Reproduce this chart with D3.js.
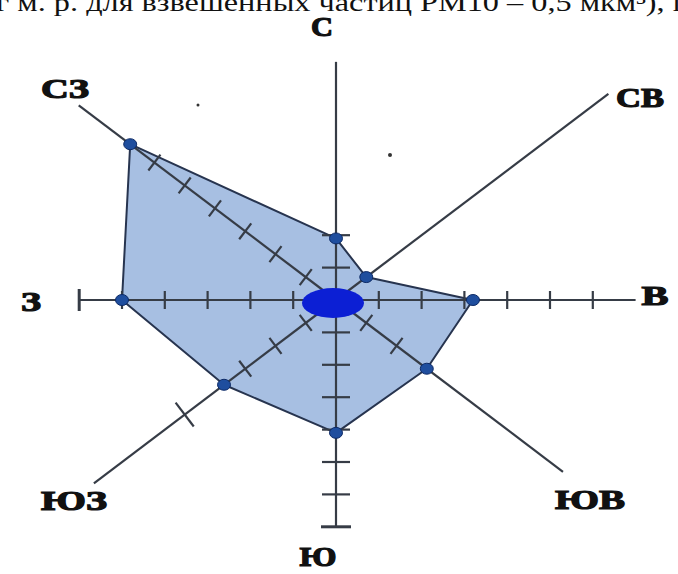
<!DOCTYPE html>
<html>
<head>
<meta charset="utf-8">
<script src="https://cdn.jsdelivr.net/npm/d3@7"></script>
<style>
  html, body { margin: 0; padding: 0; background: #fff; overflow: hidden; }
  svg { display: block; }
  .lbl { font-family: "Liberation Serif", "DejaVu Serif", serif; font-weight: bold; fill: #111; stroke: #111; stroke-width: 1.2px; }
</style>
</head>
<body>
<svg id="chart" width="678" height="574"></svg>
<script>
// ---- data ----
const directions = ["С", "СВ", "В", "ЮВ", "Ю", "ЮЗ", "З", "СЗ"];
const angles = [0, 45, 90, 135, 180, 225, 270, 315];
const values = [1.9, 1.0, 3.2, 3.0, 4.1, 3.7, 5.0, 6.8];
const axisLengths = [7.35, 9, 7, 7.5, 7, 8, 6, 8.5];
const tickValues = [[1, 2], [], [1, 2, 3, 4, 5, 6], [1, 2], [1, 2, 3, 4, 5, 6], [1, 2, 3, 5], [1, 2, 3, 4, 5], [1, 2, 3, 4, 5, 6]];
const endCaps = [null, null, null, null, 7, null, 6, null];
const titleText = "г м. р. для взвешенных  частиц PM10 – 0,5 мкм³), г";

// ---- layout ----
const cx = 336, cy = 300;
const svg = d3.select("#chart");

// anisotropic scales (horizontal / vertical unit)
const sx = d3.scaleLinear().domain([0, 1]).range([0, 42.8]);
const sy = d3.scaleLinear().domain([0, 1]).range([0, 32.4]);
const rad = a => a * Math.PI / 180;
function pt(r, ang) {
  const a = rad(ang);
  return [cx + sx(r * Math.sin(a)), cy - sy(r * Math.cos(a))];
}
function perp(ang) {
  const a = rad(ang);
  const dx = sx(Math.sin(a)), dy = -sy(Math.cos(a));
  const n = Math.hypot(dx, dy);
  return [-dy / n, dx / n];
}

// title line (cut off at the top)
svg.append("text")
  .attr("x", -4).attr("y", 11)
  .attr("textLength", 690).attr("lengthAdjust", "spacingAndGlyphs")
  .style("font-family", "'Liberation Serif', serif")
  .style("font-size", "26px").style("fill", "#111")
  .text(titleText);

// polygon
const polyPts = values.map((v, i) => pt(v, angles[i]));
svg.append("path")
  .attr("d", d3.line()(polyPts) + "Z")
  .attr("fill", "#a7bfe2")
  .attr("stroke", "#27344f")
  .attr("stroke-width", 2)
  .attr("stroke-linejoin", "round");

// axes
const axisG = svg.append("g").attr("stroke", "#363c46").attr("stroke-width", 2.2).attr("fill", "none");
angles.forEach((ang, i) => {
  const [x2, y2] = pt(axisLengths[i], ang);
  axisG.append("line").attr("x1", cx).attr("y1", cy).attr("x2", x2).attr("y2", y2);
  const [px, py] = perp(ang);
  const diag = ang % 90 !== 0;
  tickValues[i].forEach(t => {
    const [tx, ty] = pt(t, ang);
    let h = diag ? 10 : (ang % 180 === 0 ? 14 : 9);
    if (diag && i === 5 && t === 5) h = 15;
    axisG.append("line")
      .attr("x1", tx - px * h).attr("y1", ty - py * h)
      .attr("x2", tx + px * h).attr("y2", ty + py * h);
  });
  if (endCaps[i] !== null) {
    const [tx, ty] = pt(endCaps[i], ang);
    const h = ang % 180 === 0 ? 15 : 11;
    axisG.append("line").attr("stroke-width", 3)
      .attr("x1", tx - px * h).attr("y1", ty - py * h)
      .attr("x2", tx + px * h).attr("y2", ty + py * h);
  }
});

// central ellipse
svg.append("ellipse")
  .attr("cx", cx - 3).attr("cy", cy + 3)
  .attr("rx", 31).attr("ry", 15)
  .attr("fill", "#0c1fd4");

// vertices
svg.selectAll("ellipse.pt").data(polyPts).enter().append("ellipse")
  .attr("class", "pt")
  .attr("cx", d => d[0]).attr("cy", d => d[1])
  .attr("rx", 6.5).attr("ry", 5.5)
  .attr("fill", "#1f4e9e").attr("stroke", "#0d2a66").attr("stroke-width", 1);

// stray dots
svg.append("circle").attr("cx", 198).attr("cy", 105).attr("r", 1.5).attr("fill", "#333");
svg.append("circle").attr("cx", 390).attr("cy", 155).attr("r", 2).attr("fill", "#333");

// direction labels
const labelPos = {
  "С": [322, 36, 22],
  "СВ": [640, 107, 48],
  "В": [655, 305, 27],
  "ЮВ": [590, 509, 70],
  "Ю": [318, 566, 37],
  "ЮЗ": [74, 510, 66],
  "З": [31, 311, 20],
  "СЗ": [65, 98, 48]
};
directions.forEach(d => {
  const [x, y, w] = labelPos[d];
  svg.append("text").attr("class", "lbl")
    .attr("x", x - w / 2).attr("y", y)
    .attr("textLength", w).attr("lengthAdjust", "spacingAndGlyphs")
    .style("font-size", "28px")
    .text(d);
});
</script>
</body>
</html>
